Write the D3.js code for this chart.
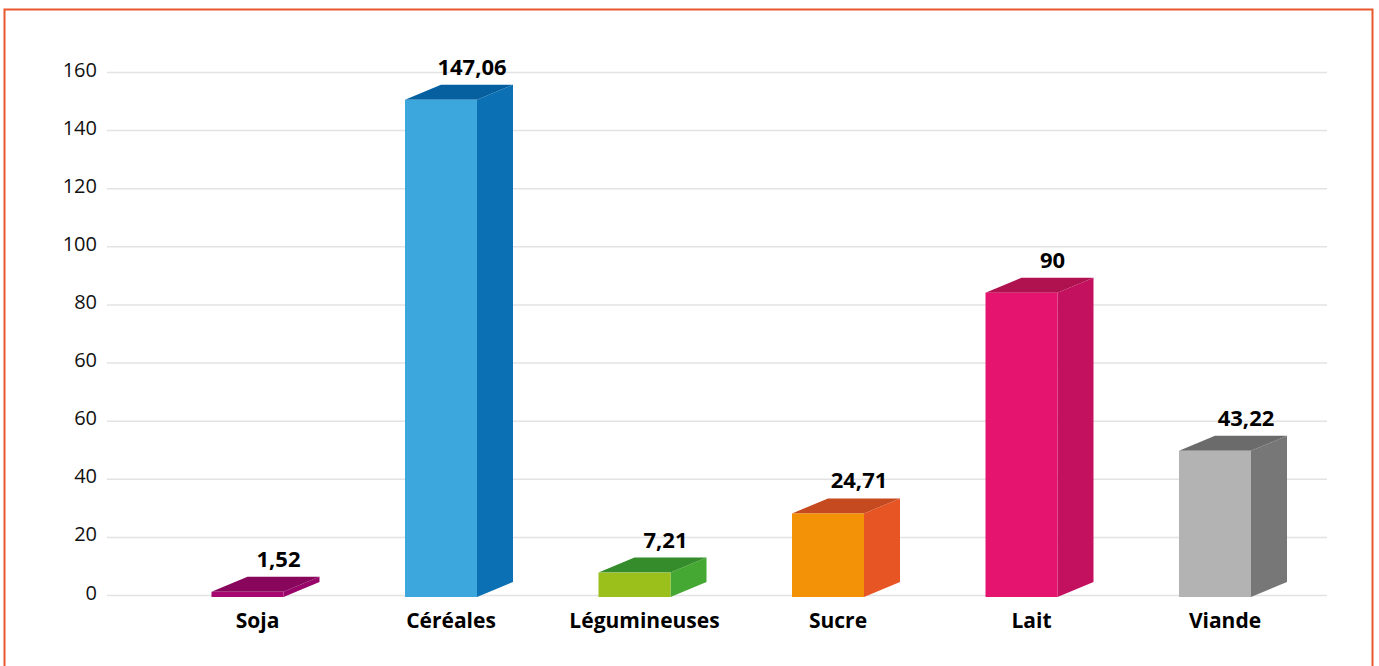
<!DOCTYPE html>
<head>
<meta charset="utf-8">
<script src="https://d3js.org/d3.v7.min.js"></script>
<style>
body{ margin:0; background:#fff; }
text{ font-family: "Open Sans", sans-serif; fill:#000; }
text.tick{ font-size:20px; font-weight:400; text-anchor:end; fill:#111; }
text.valueLabel{ font-size:22px; font-weight:700; text-anchor:middle; }
text.catLabel{ font-size:21px; font-weight:700; text-anchor:middle; }
line.grid{ stroke:#e3e3e3; stroke-width:1.5; }
</style>
</head>
<body>
<script>
const width = 1379, height = 666;

// data
const categories = ["Soja", "Céréales", "Légumineuses", "Sucre", "Lait", "Viande"];
const values     = [1.52, 147.06, 7.21, 24.71, 90, 43.22];
const valueText  = ["1,52", "147,06", "7,21", "24,71", "90", "43,22"];
const tickLabels = ["0", "20", "40", "60", "60", "80", "100", "120", "140", "160"];
const frontColors = ["#a6086f", "#3ca7dc", "#9bbf1b", "#f39207", "#e5146f", "#b3b3b4"];
const topColors   = ["#88075d", "#06609f", "#358c2a", "#c54a20", "#b0114f", "#6b6b6b"];
const sideColors  = ["#98066a", "#0c71b4", "#44a833", "#e85525", "#c31160", "#777777"];

const data = categories.map((c, i) => ({
   name: c, value: values[i], label: valueText[i],
   front: frontColors[i], top: topColors[i], side: sideColors[i]
}));

const svg = d3.select("body").append("svg")
   .attr("width", width)
   .attr("height", height);

// frame
svg.append("path")
   .attr("d", `M4.5,${height+5} L4.5,9.5 L1372.5,9.5 L1372.5,${height+5}`)
   .attr("fill", "none")
   .attr("stroke", "#e9582f")
   .attr("stroke-width", 2);

// gridlines (tick labels are positional, the original repeats "60")
const gy = d3.scaleLinear().domain([0, tickLabels.length - 1]).range([595.5, 72.5]);
const gridX0 = 107, gridX1 = 1327;

svg.selectAll("line.grid")
   .data(tickLabels)
   .enter().append("line")
   .attr("class", "grid")
   .attr("x1", gridX0).attr("x2", gridX1)
   .attr("y1", (d, i) => gy(i)).attr("y2", (d, i) => gy(i));

svg.selectAll("text.tick")
   .data(tickLabels)
   .enter().append("text")
   .attr("class", "tick")
   .attr("x", 97)
   .attr("y", (d, i) => gy(i) + 4)
   .text(d => d);

// bars
const x = d3.scaleBand().domain(categories).range([150.75, 1311.75]).paddingInner(0).paddingOuter(0);
const y = d3.scaleLinear().domain([0, 160]).range([597, 56]);
const barW = 72, dx = 36, dy = 15;

const fx = d => x(d.name) + x.bandwidth() / 2 - barW / 2;

const bars = svg.append("g").selectAll("g.bar")
   .data(data)
   .enter().append("g")
   .attr("class", "bar");

// side face
bars.append("path")
   .attr("d", d => {
      const x0 = fx(d) + barW, yt = y(d.value), yb = y(0);
      return `M${x0},${yb} L${x0},${yt} L${x0+dx},${yt-dy} L${x0+dx},${yb-dy} Z`;
   })
   .attr("fill", d => d.side);

// top face
bars.append("path")
   .attr("d", d => {
      const x0 = fx(d), yt = y(d.value);
      return `M${x0},${yt} L${x0+dx},${yt-dy} L${x0+barW+dx},${yt-dy} L${x0+barW},${yt} Z`;
   })
   .attr("fill", d => d.top);

// front face
bars.append("rect")
   .attr("x", fx)
   .attr("y", d => y(d.value))
   .attr("width", barW)
   .attr("height", d => y(0) - y(d.value))
   .attr("fill", d => d.front);

bars.append("text")
   .attr("class", "valueLabel")
   .attr("x", d => fx(d) + barW / 2 + 31)
   .attr("y", d => y(d.value) - dy - 10)
   .text(d => d.label);

bars.append("text")
   .attr("class", "catLabel")
   .attr("x", d => fx(d) + barW / 2 + 10)
   .attr("y", 628)
   .text(d => d.name);
</script>
</body>
